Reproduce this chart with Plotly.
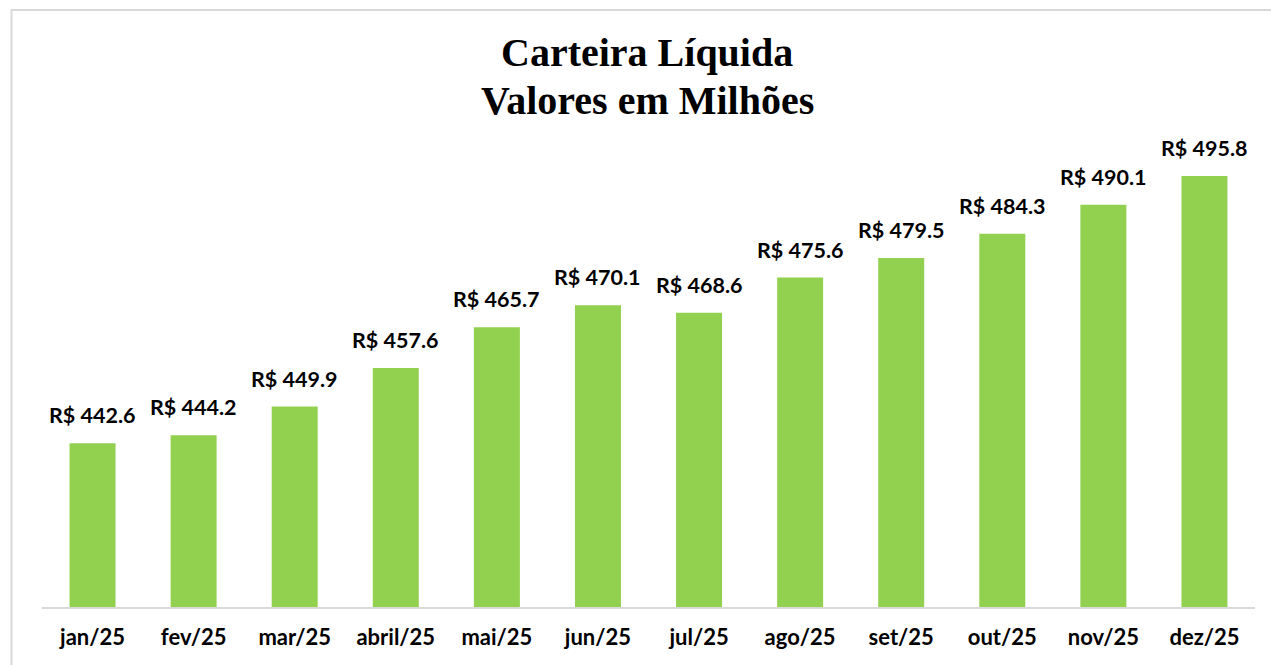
import plotly.graph_objects as go

categories = ["jan/25", "fev/25", "mar/25", "abril/25", "mai/25", "jun/25",
              "jul/25", "ago/25", "set/25", "out/25", "nov/25", "dez/25"]
values = [442.6, 444.2, 449.9, 457.6, 465.7, 470.1, 468.6, 475.6, 479.5, 484.3, 490.1, 495.8]
labels = [f"R$ {v:.1f}" for v in values]
title_lines = ["Carteira Líquida", "Valores em Milhões"]

W, H = 1271, 665
ml, mr, mt, mb = 41.5, W - 1254.6, 155, 58

fig = go.Figure()
fig.add_trace(go.Bar(x=categories, y=values, marker=dict(color="#92D050", line=dict(width=0)),
                     hoverinfo="skip"))

for c, v, t in zip(categories, values, labels):
    fig.add_annotation(x=c, y=v, text=f"<b>{t}</b>", showarrow=False, yanchor="bottom",
                       yshift=13, font=dict(family="Lato", size=21.5, color="#000000"))

pw = W - ml - mr
ph = H - mt - mb
def px_x(p):
    return (p - ml) / pw
def px_y(p):
    return (H - mb - p) / ph

for line, yc in zip(title_lines, [53, 100]):
    fig.add_annotation(xref="paper", yref="paper", x=px_x(647), y=px_y(yc),
                       text=f"<b>{line}</b>", showarrow=False, xanchor="center", yanchor="middle",
                       font=dict(family="Liberation Serif", size=40, color="#000000"))

fig.add_shape(type="rect", xref="paper", yref="paper",
              x0=px_x(11), x1=px_x(1290), y0=px_y(700), y1=px_y(10),
              line=dict(color="#d9d9d9", width=2), fillcolor="rgba(0,0,0,0)", layer="below")

fig.update_layout(
    width=W, height=H,
    margin=dict(l=ml, r=mr, t=mt, b=mb),
    paper_bgcolor="white", plot_bgcolor="white",
    bargap=0.545,
    showlegend=False,
    xaxis=dict(showline=True, linecolor="#d9d9d9", linewidth=2, ticks="",
               tickfont=dict(family="Lato", size=22, color="#000000"),
               tickprefix="<b>", ticksuffix="</b>", showgrid=False, ticklabelstandoff=10),
    yaxis=dict(range=[410, 500], visible=False, showgrid=False),
)

fig.write_html("out.html", config={"displayModeBar": False},
               post_script="document.body.style.margin='0';document.body.style.overflow='hidden';")
